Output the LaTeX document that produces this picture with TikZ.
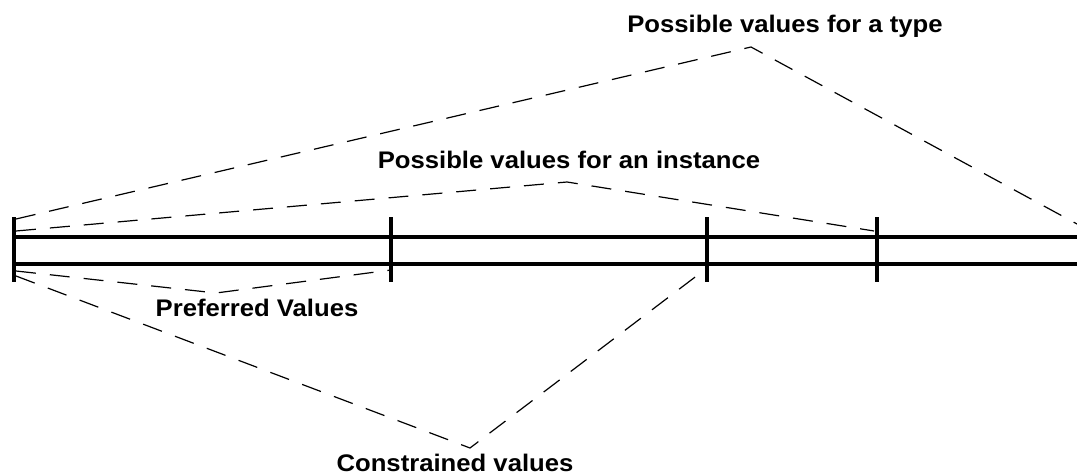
\documentclass[tikz,border=0pt]{standalone}
\usepackage{fontspec}
\newfontfamily\labfont[FakeStretch=1.07]{Liberation Sans}
\begin{document}
\begin{tikzpicture}[x=1pt,y=-1pt,
  mainline/.style={line width=3.2pt},
  tickline/.style={line width=3.2pt},
  dashline/.style={line width=1.2pt, dash pattern=on 20pt off 14pt},
  lab/.style={anchor=base, inner sep=0pt, font=\labfont\bfseries\fontsize{24}{28}\selectfont}]
\useasboundingbox (0,0) rectangle (1077,476);
% ticks
\coordinate (t0a) at (14,217); \coordinate (t0b) at (14,282);
\coordinate (t1a) at (391,217); \coordinate (t1b) at (391,282);
\coordinate (t2a) at (707,217); \coordinate (t2b) at (707,282);
\coordinate (t3a) at (877,217); \coordinate (t3b) at (877,282);
% main lines
\coordinate (la) at (14,237); \coordinate (ra) at (1077,237);
\coordinate (lb) at (14,264); \coordinate (rb) at (1077,264);
\draw[mainline] (la) -- (ra);
\draw[mainline] (lb) -- (rb);
\draw[tickline] (t0a) -- (t0b);
\draw[tickline] (t1a) -- (t1b);
\draw[tickline] (t2a) -- (t2b);
\draw[tickline] (t3a) -- (t3b);
% dashed envelopes
\coordinate (typeL) at (16,219); \coordinate (typeA) at (751,47); \coordinate (typeR) at (1077,224);
\coordinate (instL) at (16,231); \coordinate (instA) at (567,182); \coordinate (instR) at (874,231);
\coordinate (prefL) at (16,271); \coordinate (prefA) at (216,293); \coordinate (prefR) at (391,270);
\coordinate (consL) at (16,276); \coordinate (consA) at (470,448); \coordinate (consR) at (707,268);
\draw[dashline] (typeL) -- (typeA) -- (typeR);
\draw[dashline] (instL) -- (instA) -- (instR);
\draw[dashline] (prefL) -- (prefA) -- (prefR);
\draw[dashline] (consL) -- (consA) -- (consR);
% labels
\node[lab] (ltype) at (785,33) {Possible values for a type};
\node[lab] (linst) at (569,169) {Possible values for an instance};
\node[lab] (lpref) at (257,316) {Preferred Values};
\node[lab] (lcons) at (455,471) {Constrained values};
\end{tikzpicture}
\end{document}
